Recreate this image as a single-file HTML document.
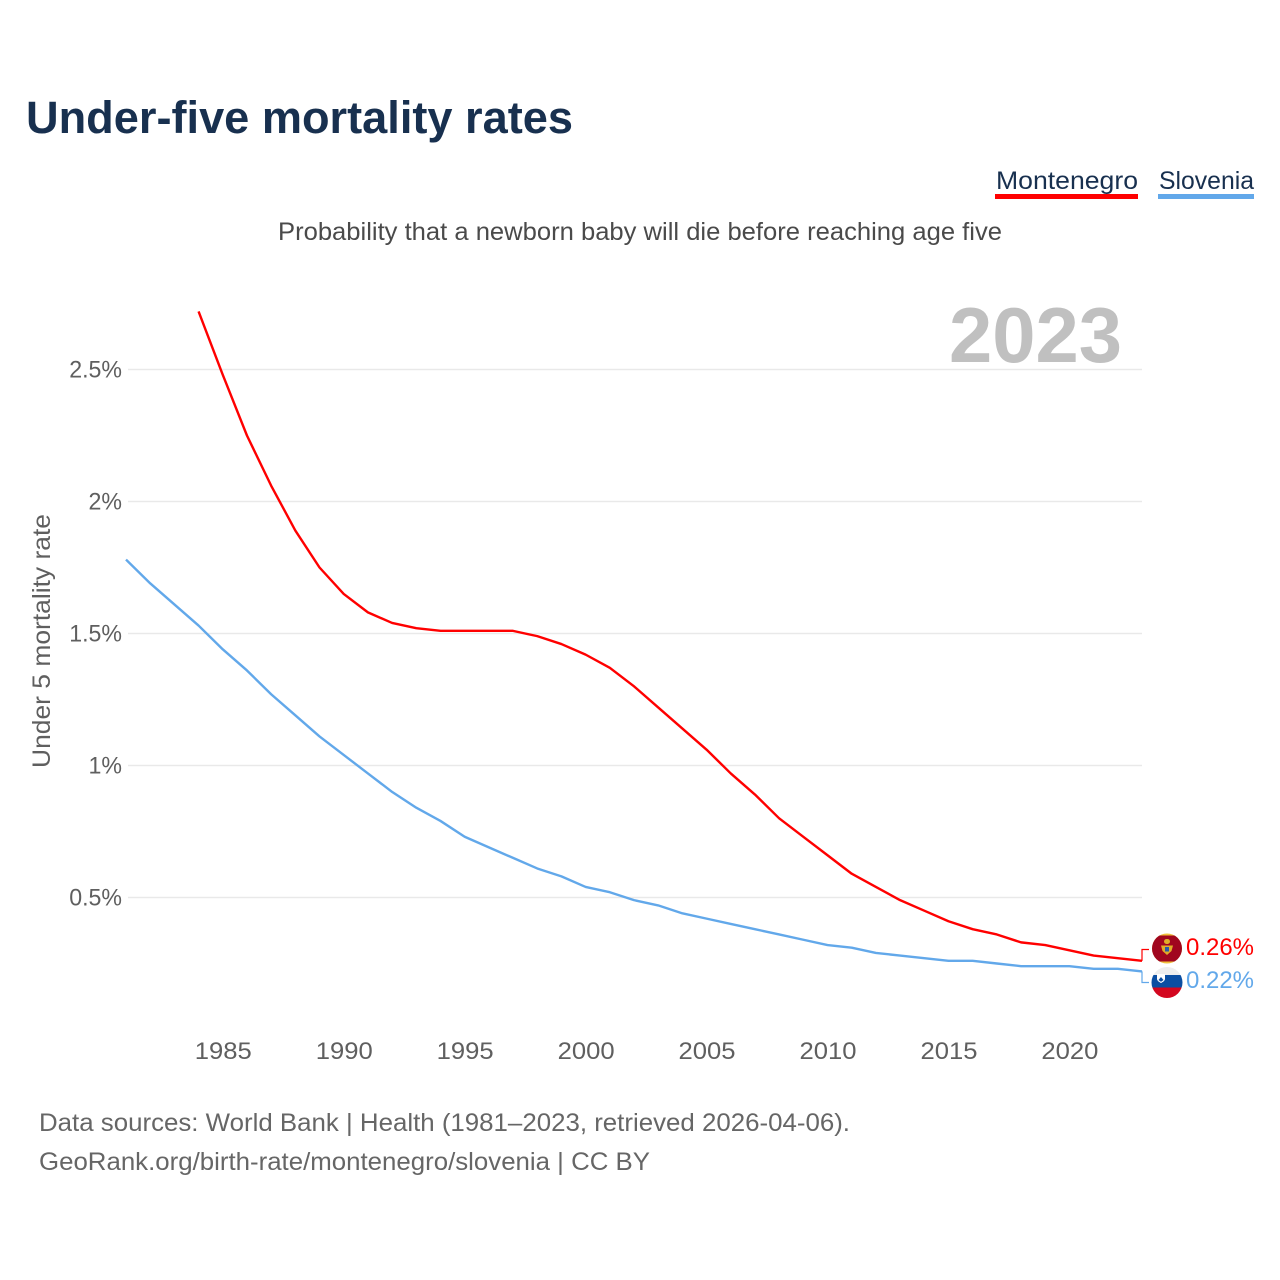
<!DOCTYPE html>
<html lang="en">
<head>
<meta charset="utf-8">
<title>Under-five mortality rates</title>
<style>
html,body{margin:0;padding:0;background:#fff;}
svg{display:block;font-family:"Liberation Sans",sans-serif;}
</style>
</head>
<body>
<svg id="chart" width="1280" height="1280" viewBox="0 0 1280 1280" xmlns="http://www.w3.org/2000/svg">
  <text x="26" y="133" font-size="45" font-weight="700" fill="#18304f" textLength="547" lengthAdjust="spacingAndGlyphs">Under-five mortality rates</text>
  <text x="278" y="240" font-size="25" fill="#4a4a4a" textLength="724" lengthAdjust="spacingAndGlyphs">Probability that a newborn baby will die before reaching age five</text>

  <g>
    <text x="996" y="189" font-size="25" fill="#18304f" textLength="142" lengthAdjust="spacingAndGlyphs">Montenegro</text>
    <rect x="995" y="194" width="143" height="5" fill="#ff0000"/>
  </g>
  <g>
    <text x="1159" y="189" font-size="25" fill="#18304f" textLength="95" lengthAdjust="spacingAndGlyphs">Slovenia</text>
    <rect x="1158" y="194" width="96" height="5" fill="#62a8ea"/>
  </g>

  <text x="949" y="362" font-size="78" font-weight="700" fill="#c0c0c0" textLength="173" lengthAdjust="spacingAndGlyphs">2023</text>

  <g id="grid"></g>
  <g id="yticks"></g>
  <g id="xticks"></g>

  <text transform="translate(50,768) rotate(-90)" x="0" y="0" font-size="25" fill="#5f5f5f" textLength="254" lengthAdjust="spacingAndGlyphs">Under 5 mortality rate</text>

  <g id="series"></g>

  <g>
    <path id="conn-me" fill="none" stroke="#ff0000" stroke-width="1.2"/>
    <g>
      <clipPath id="clip-me"><circle cx="1167" cy="948.5" r="15"/></clipPath>
      <g clip-path="url(#clip-me)">
        <rect x="1152" y="933" width="30" height="31" fill="#f0c23c"/>
        <rect x="1152" y="935.500" width="30" height="26" fill="#a0061e"/>
        <path d="M1161 945.500h12l-1.500 5.500-4.500 4-4.500-4z" fill="#e0ad28"/>
        <rect x="1164" y="939" width="6" height="5" rx="2.500" fill="#e0ad28"/>
        <rect x="1165" y="947" width="4" height="4.500" fill="#2a5aa8"/>
      </g>
    </g>
    <text id="label-me" x="1186" y="955" font-size="24" fill="#ff0000" textLength="68" lengthAdjust="spacingAndGlyphs">0.26%</text>
  </g>
  <g>
    <path id="conn-si" fill="none" stroke="#62a8ea" stroke-width="1.2"/>
    <g>
      <clipPath id="clip-si"><circle cx="1167" cy="982.5" r="15.500"/></clipPath>
      <g clip-path="url(#clip-si)">
        <rect x="1151" y="967" width="32" height="9" fill="#eeeeee"/>
        <rect x="1151" y="975" width="32" height="12.500" fill="#0b4ea2"/>
        <rect x="1151" y="987.500" width="32" height="11" fill="#d3071f"/>
        <path d="M1157 974h8v5c0 1.500-2 3-4 4-2-1-4-2.500-4-4z" fill="#ffffff"/>
        <path d="M1158.500 980l2.500-3 2.500 3c-1 .8-1.700 1.300-2.500 1.700-.8-.4-1.500-.9-2.500-1.700z" fill="#0b4ea2"/>
      </g>
    </g>
    <text id="label-si" x="1186" y="988" font-size="24" fill="#62a8ea" textLength="68" lengthAdjust="spacingAndGlyphs">0.22%</text>
  </g>

  <text x="39" y="1131" font-size="25" fill="#666666" textLength="811" lengthAdjust="spacingAndGlyphs">Data sources: World Bank | Health (1981–2023, retrieved 2026-04-06).</text>
  <text x="39" y="1170" font-size="25" fill="#666666" textLength="611" lengthAdjust="spacingAndGlyphs">GeoRank.org/birth-rate/montenegro/slovenia | CC BY</text>
</svg>
<script>
const montenegroYears = [1984,1985,1986,1987,1988,1989,1990,1991,1992,1993,1994,1995,1996,1997,1998,1999,2000,2001,2002,2003,2004,2005,2006,2007,2008,2009,2010,2011,2012,2013,2014,2015,2016,2017,2018,2019,2020,2021,2022,2023];
const montenegroValues = [2.72,2.48,2.25,2.06,1.89,1.75,1.65,1.58,1.54,1.52,1.51,1.51,1.51,1.51,1.49,1.46,1.42,1.37,1.30,1.22,1.14,1.06,0.97,0.89,0.80,0.73,0.66,0.59,0.54,0.49,0.45,0.41,0.38,0.36,0.33,0.32,0.30,0.28,0.27,0.26];
const sloveniaYears = [1981,1982,1983,1984,1985,1986,1987,1988,1989,1990,1991,1992,1993,1994,1995,1996,1997,1998,1999,2000,2001,2002,2003,2004,2005,2006,2007,2008,2009,2010,2011,2012,2013,2014,2015,2016,2017,2018,2019,2020,2021,2022,2023];
const sloveniaValues = [1.78,1.69,1.61,1.53,1.44,1.36,1.27,1.19,1.11,1.04,0.97,0.90,0.84,0.79,0.73,0.69,0.65,0.61,0.58,0.54,0.52,0.49,0.47,0.44,0.42,0.40,0.38,0.36,0.34,0.32,0.31,0.29,0.28,0.27,0.26,0.26,0.25,0.24,0.24,0.24,0.23,0.23,0.22];
const yTickValues = [0.5,1,1.5,2,2.5];
const yTickLabels = ['0.5%','1%','1.5%','2%','2.5%'];
const xTickValues = [1985,1990,1995,2000,2005,2010,2015,2020];

const NS = 'http://www.w3.org/2000/svg';
function xScale(year){ return 126 + (year - 1981) * (1142 - 126) / (2023 - 1981); }
function yScale(v){ return 1029.5 - v * 264; }
function make(tag, attrs, parent){
  const el = document.createElementNS(NS, tag);
  for (const k in attrs) el.setAttribute(k, attrs[k]);
  parent.appendChild(el);
  return el;
}

const grid = document.getElementById('grid');
const yticks = document.getElementById('yticks');
yTickValues.forEach(function(v, i){
  const line = make('line', {x1:128, x2:1142, y1:yScale(v), y2:yScale(v), stroke:'#e9e9e9', 'stroke-width':1.5}, grid);
  
  
  const t = make('text', {x:122, y:yScale(v)+8, 'text-anchor':'end', 'font-size':24, fill:'#5f5f5f'}, yticks);
  
  
  t.textContent = yTickLabels[i];
  t.setAttribute('textLength', (t.getComputedTextLength() * 0.965).toFixed(1));
  t.setAttribute('lengthAdjust', 'spacingAndGlyphs');
});

const xticks = document.getElementById('xticks');
xTickValues.forEach(function(y){
  const t = make('text', {x:xScale(y)+0.5, y:1059, 'text-anchor':'middle', 'font-size':24, fill:'#5f5f5f', textLength:57, lengthAdjust:'spacingAndGlyphs'}, xticks);
  
  
  t.textContent = String(y);
});

function pathFor(years, values){
  return years.map(function(y, i){ return xScale(y).toFixed(2) + ',' + yScale(values[i]).toFixed(2); }).join(' ');
}
const series = document.getElementById('series');
const sloLine = make('polyline', {points:pathFor(sloveniaYears, sloveniaValues), fill:'none', stroke:'#62a8ea', 'stroke-width':2.4, 'stroke-linejoin':'round'}, series);


const monLine = make('polyline', {points:pathFor(montenegroYears, montenegroValues), fill:'none', stroke:'#ff0000', 'stroke-width':2.4, 'stroke-linejoin':'round'}, series);



const endX = xScale(2023);
const meEnd = yScale(montenegroValues[montenegroValues.length - 1]);
const siEnd = yScale(sloveniaValues[sloveniaValues.length - 1]);
document.getElementById('conn-me').setAttribute('d', 'M' + endX + ' ' + meEnd + 'V949.5H1149');
document.getElementById('conn-si').setAttribute('d', 'M' + endX + ' ' + siEnd + 'V982.5H1149');
</script>
</body>
</html>
